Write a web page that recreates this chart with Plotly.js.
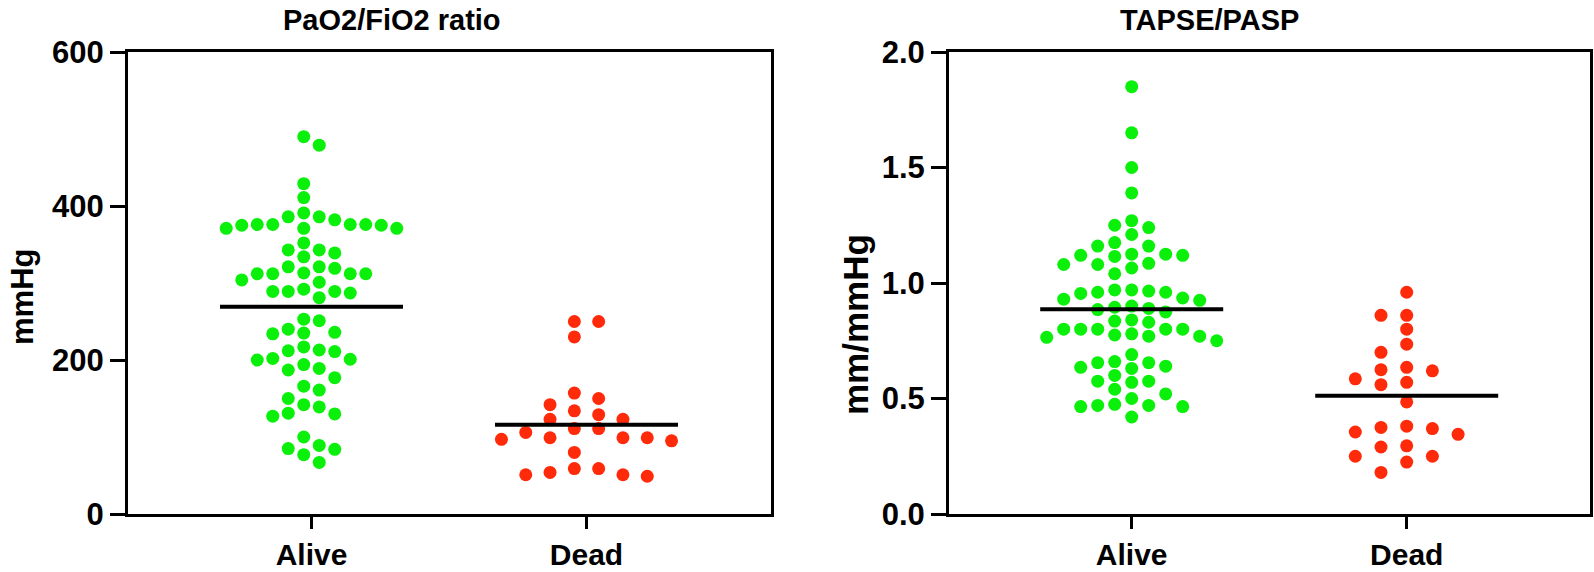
<!DOCTYPE html>
<html>
<head>
<meta charset="utf-8">
<script src="https://cdn.plot.ly/plotly-3.0.1.min.js"></script>
<style>
html,body{margin:0;padding:0;background:#ffffff;}
#chart{width:1594px;height:572px;}
</style>
</head>
<body>
<div id="chart"></div>
<script>
// ---------------- data ----------------
const categories = ['Alive', 'Dead'];

const panelTitles = ['PaO2/FiO2 ratio', 'TAPSE/PASP'];
const yTitles = ['mmHg', 'mm/mmHg'];

const pfTickVals = [0, 200, 400, 600];
const tpTickVals = [0, 0.5, 1.0, 1.5, 2.0];

// PaO2/FiO2 ratio (mmHg)
const pfAlive = [490, 479, 429, 411, 376, 376, 375, 386, 375, 371, 371, 371, 391, 386, 382, 376, 376,
  343, 343, 339, 352, 334, 321, 304, 312, 312, 321, 319, 312, 312, 313, 301,
  289, 289, 281, 287, 292, 289, 253, 251, 236, 234, 240, 235,
  213, 200, 201, 211, 212, 217, 202, 187, 189, 194, 177,
  161, 166, 150, 142, 127, 131, 139, 130, 89, 85, 100, 84, 77, 67];
const pfDead = [250, 250, 230, 157, 142, 150, 134, 129, 123, 123, 111, 111, 106,
  95, 99, 97, 99, 99, 80, 51, 59, 51, 59, 49, 54];
const pfCenterLine = [269, 116];

// TAPSE/PASP (mm/mmHg)
const tpAlive = [1.85, 1.65, 1.50, 1.39, 1.24, 1.21, 1.27, 1.25, 1.16, 1.175, 1.16,
  1.12, 1.12, 1.125, 1.125, 1.115, 1.08, 1.08, 1.065, 1.085, 1.04,
  0.96, 0.97, 0.97, 0.965, 0.96, 0.955, 0.925, 0.93, 0.935,
  0.885, 0.89, 0.90, 0.895, 0.875, 0.80, 0.80, 0.84, 0.835, 0.83,
  0.75, 0.77, 0.80, 0.775, 0.77, 0.78, 0.765, 0.80, 0.80, 0.69,
  0.63, 0.66, 0.64, 0.635, 0.655, 0.655, 0.575, 0.575, 0.57, 0.60,
  0.52, 0.54, 0.465, 0.50, 0.47, 0.475, 0.47, 0.465, 0.42];
const tpDead = [0.96, 0.86, 0.86, 0.80, 0.735, 0.70, 0.625, 0.635, 0.62, 0.57, 0.585, 0.56,
  0.485, 0.345, 0.375, 0.38, 0.355, 0.37, 0.295, 0.29, 0.25, 0.225, 0.25, 0.18];
const tpCenterLine = [0.886, 0.512];

// ---------------- layout constants ----------------
const W = 1594, H = 572;
const plotTop = 52, plotBottom = 514;
const catGap = 275;                 // px between Alive and Dead
const panels = [
  {x0: 128, x1: 771, alive: 311.5, yMax: 600},
  {x0: 949, x1: 1590, alive: 1131.7, yMax: 2.0}
];
const GREEN = '#0af00a', RED = '#ff2a0a';
const FONT = 'Liberation Sans, Arial, Helvetica, sans-serif';
const DOT = 13;

// simple grid beeswarm: points sorted by value, each takes the column
// nearest the centre where it does not overlap a dot already in that column
function swarm(values, colPx, parity, pxPerUnit) {
  const rowH = (DOT + 0.5) / pxPerUnit;
  const cands = [];
  for (let k = 0; k < 20; k++) {
    if (parity === 0) { if (k === 0) cands.push(0); else { cands.push(-k); cands.push(k); } }
    else { cands.push(-(k + 0.5)); cands.push(k + 0.5); }
  }
  const order = values.map((v, i) => i).sort((a, b) => values[b] - values[a]);
  const placed = [];
  const offs = new Array(values.length).fill(0);
  order.forEach(i => {
    const y = values[i];
    for (const c of cands) {
      if (!placed.some(p => p.c === c && Math.abs(p.y - y) < rowH)) {
        placed.push({c, y}); offs[i] = c * colPx / catGap; break;
      }
    }
  });
  return offs;
}

function groupTrace(values, catIndex, colPx, parity, pxPerUnit, color, xa, ya) {
  const offs = swarm(values, colPx, parity, pxPerUnit);
  return {
    type: 'scatter', mode: 'markers', xaxis: xa, yaxis: ya,
    x: values.map((v, i) => catIndex + offs[i]), y: values,
    marker: {size: DOT, color: color, line: {width: 0}},
    hoverinfo: 'y', showlegend: false, cliponaxis: false
  };
}

function centerTrace(val, catIndex, xa, ya) {
  const half = 183 / 2 / catGap;
  return {
    type: 'scatter', mode: 'lines', xaxis: xa, yaxis: ya,
    x: [catIndex - half, catIndex + half], y: [val, val],
    line: {color: '#000', width: 4}, hoverinfo: 'skip', showlegend: false
  };
}

const pxPF = (plotBottom - plotTop) / 600;
const pxTP = (plotBottom - plotTop) / 2.0;

const traces = [
  groupTrace(pfAlive, 0, 15.5, 0.5, pxPF, GREEN, 'x', 'y'),
  groupTrace(pfDead, 1, 24.3, 0.5, pxPF, RED, 'x', 'y'),
  centerTrace(pfCenterLine[0], 0, 'x', 'y'),
  centerTrace(pfCenterLine[1], 1, 'x', 'y'),
  groupTrace(tpAlive, 0, 17, 0, pxTP, GREEN, 'x2', 'y2'),
  groupTrace(tpDead, 1, 25.7, 0, pxTP, RED, 'x2', 'y2'),
  centerTrace(tpCenterLine[0], 0, 'x2', 'y2'),
  centerTrace(tpCenterLine[1], 1, 'x2', 'y2')
];

const tickFont = {family: FONT, size: 31, weight: 'bold', color: '#000'};
const xTickFont = {family: FONT, size: 30, weight: 'bold', color: '#000'};
function xAxis(p, anchor) {
  return {
    domain: [p.x0 / W, p.x1 / W], anchor: anchor,
    range: [-(p.alive - p.x0) / catGap, (p.x1 - p.alive) / catGap],
    tickvals: [0, 1], ticktext: categories,
    showgrid: false, zeroline: false, showline: true, mirror: true,
    linecolor: '#000', linewidth: 3, ticks: 'outside', ticklen: 12, tickwidth: 3, tickcolor: '#000',
    tickfont: xTickFont, fixedrange: true
  };
}
function yAxis(p, anchor, tickvals, fmt) {
  return {
    domain: [1 - plotBottom / H, 1 - plotTop / H], anchor: anchor,
    range: [0, p.yMax], tickvals: tickvals, tickformat: fmt,
    showgrid: false, zeroline: false, showline: true, mirror: true,
    linecolor: '#000', linewidth: 3, ticks: 'outside', ticklen: 15, tickwidth: 3, tickcolor: '#000',
    tickfont: tickFont, fixedrange: true
  };
}

const titleFont = {family: FONT, size: 29, weight: 'bold', color: '#000'};
const yTitleFontL = {family: FONT, size: 31, weight: 'bold', color: '#000'};
const yTitleFontR = {family: FONT, size: 35, weight: 'bold', color: '#000'};
const layout = {
  width: W, height: H, margin: {l: 0, r: 0, t: 0, b: 0},
  paper_bgcolor: '#fff', plot_bgcolor: '#fff', showlegend: false,
  xaxis: xAxis(panels[0], 'y'), yaxis: yAxis(panels[0], 'x', pfTickVals, 'd'),
  xaxis2: xAxis(panels[1], 'y2'), yaxis2: yAxis(panels[1], 'x2', tpTickVals, '.1f'),
  annotations: [
    {text: panelTitles[0], x: 392 / W, y: 1 - 20 / H, xref: 'paper', yref: 'paper', showarrow: false, font: titleFont, xanchor: 'center', yanchor: 'middle'},
    {text: panelTitles[1], x: 1209 / W, y: 1 - 20 / H, xref: 'paper', yref: 'paper', showarrow: false, font: titleFont, xanchor: 'center', yanchor: 'middle'},
    {text: yTitles[0], x: 22 / W, y: 1 - 297 / H, xref: 'paper', yref: 'paper', showarrow: false, font: yTitleFontL, textangle: -90, xanchor: 'center', yanchor: 'middle'},
    {text: yTitles[1], x: 855 / W, y: 1 - 325 / H, xref: 'paper', yref: 'paper', showarrow: false, font: yTitleFontR, textangle: -90, xanchor: 'center', yanchor: 'middle'}
  ]
};

Plotly.newPlot('chart', traces, layout, {staticPlot: true, displayModeBar: false});
</script>
</body>
</html>
